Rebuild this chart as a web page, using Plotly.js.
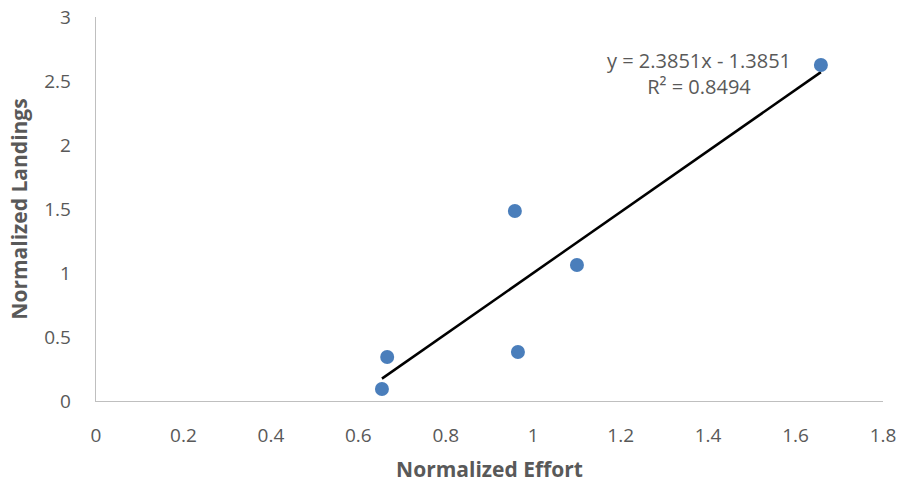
<!DOCTYPE html>
<html>
<head>
<meta charset="utf-8">
<script src="https://cdn.plot.ly/plotly-3.0.1.min.js"></script>
<style>html,body{margin:0;padding:0;background:#fff}#chart{width:901px;height:486px}</style>
</head>
<body>
<div id="chart"></div>
<script>
const effort = [0.654, 0.666, 0.958, 0.965, 1.100, 1.658];
const landings = [0.094, 0.344, 1.484, 0.383, 1.062, 2.625];
const slope = 2.3851;
const intercept = -1.3851;
const r2 = 0.8494;
const xTicks = [0, 0.2, 0.4, 0.6, 0.8, 1, 1.2, 1.4, 1.6, 1.8];
const yTicks = [0, 0.5, 1, 1.5, 2, 2.5, 3];

const xMin = Math.min(...effort), xMax = Math.max(...effort);
const trendX = [xMin, xMax];
const trendY = trendX.map(x => slope * x + intercept);

const gray = '#595959';
const font = 'Open Sans, Liberation Sans, sans-serif';

const data = [
  {x: trendX, y: trendY, mode: 'lines', type: 'scatter',
   line: {color: '#000000', width: 2.5}, hoverinfo: 'skip'},
  {x: effort, y: landings, mode: 'markers', type: 'scatter',
   marker: {color: '#4a7ebb', size: 14}}
];

const layout = {
  width: 901, height: 486,
  margin: {l: 96, r: 18, t: 17, b: 85},
  showlegend: false,
  paper_bgcolor: '#ffffff', plot_bgcolor: '#ffffff',
  font: {family: font, color: gray, size: 19},
  xaxis: {
    range: [0, 1.8], tickvals: xTicks, ticktext: xTicks.map(String),
    showgrid: false, zeroline: false, showline: true, linecolor: '#bfbfbf', linewidth: 1.3,
    ticks: 'outside', ticklen: 17, tickcolor: 'rgba(0,0,0,0)',
    tickfont: {size: 19, color: gray},
    title: {text: '<b>Normalized Effort</b>', font: {size: 21, color: gray}, standoff: 15}
  },
  yaxis: {
    range: [0, 3], tickvals: yTicks, ticktext: yTicks.map(String),
    showgrid: false, zeroline: false, showline: true, linecolor: '#bfbfbf', linewidth: 1.3,
    ticks: 'outside', ticklen: 20, tickcolor: 'rgba(0,0,0,0)',
    tickfont: {size: 19, color: gray},
    title: {text: '<b>Normalized Landings</b>', font: {size: 21, color: gray}, standoff: 10}
  },
  annotations: [{
    x: 1.38, y: 2.56, xref: 'x', yref: 'y',
    text: 'y = ' + slope.toFixed(4) + 'x - ' + Math.abs(intercept).toFixed(4) + '<br>R² = ' + r2.toFixed(4),
    showarrow: false, align: 'center', font: {size: 20, color: gray, family: font}
  }]
};

Plotly.newPlot('chart', data, layout, {displayModeBar: false, staticPlot: true});
</script>
</body>
</html>
